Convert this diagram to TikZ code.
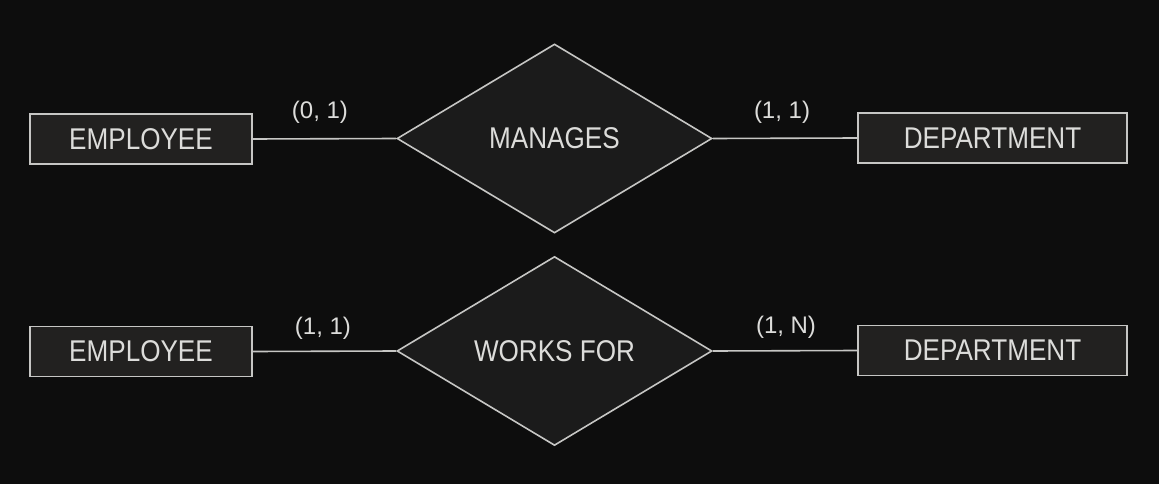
\documentclass[tikz,border=0pt]{standalone}
\usepackage{fontspec}
\setmainfont{Liberation Sans}
\newfontfamily\erfont[FakeStretch=0.87]{Liberation Sans}
\usetikzlibrary{shapes.geometric, positioning, calc}
\definecolor{bgcol}{HTML}{0D0D0D}
\definecolor{boxfill}{HTML}{222120}
\definecolor{relfill}{HTML}{1B1B1B}
\definecolor{linecol}{HTML}{C6C6C4}
\definecolor{txtcol}{HTML}{DCDCDA}

\begin{document}
\begin{tikzpicture}[x=1pt, y=-1pt,
    entity/.style={draw=linecol, fill=boxfill, line width=1.6pt, minimum height=50pt, inner sep=0pt,
        text=txtcol, font=\erfont\fontsize{30}{30}\selectfont},
    relation/.style={diamond, draw=linecol, fill=relfill, line width=1.6pt, minimum width=315pt,
        minimum height=189pt, inner sep=0pt, text=txtcol, font=\erfont\fontsize{30}{30}\selectfont},
    card/.style={text=txtcol, font=\fontsize{24}{24}\selectfont},
    conn/.style={draw=linecol, line width=1.6pt}]
    \fill[bgcol] (0,0) rectangle (1159,484);

    \node[entity, minimum width=222pt] (emp1) at (141, 139) {EMPLOYEE};
    \node[relation] (manages) at (554.5, 138.5) {MANAGES};
    \node[entity, minimum width=269pt] (dept1) at (992.5, 138) {DEPARTMENT};

    \node[entity, minimum width=222pt] (emp2) at (141, 351.5) {EMPLOYEE};
    \node[relation] (worksfor) at (554.5, 351) {WORKS FOR};
    \node[entity, minimum width=269pt] (dept2) at (992.5, 350.5) {DEPARTMENT};

    \draw[conn]
        (emp1.east) -- (manages.west)
        (manages.east) -- (dept1.west)
        (emp2.east) -- (worksfor.west)
        (worksfor.east) -- (dept2.west)
        ;

    \node[card] (c1) at (320, 112) {(0, 1)};
    \node[card] (c2) at (782, 112) {(1, 1)};
    \node[card] (c3) at (323, 328) {(1, 1)};
    \node[card] (c4) at (786, 327) {(1, N)};
\end{tikzpicture}
\end{document}
